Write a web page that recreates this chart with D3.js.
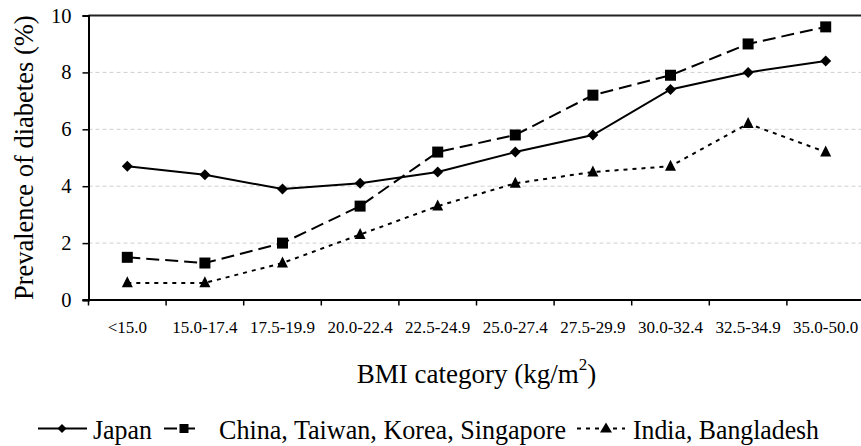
<!DOCTYPE html>
<html>
<head>
<meta charset="utf-8">
<script src="https://cdn.jsdelivr.net/npm/d3@7"></script>
<style>
  html, body { margin: 0; padding: 0; background: #fff; }
  svg text { font-family: "Liberation Serif", "Times New Roman", Times, "DejaVu Serif", serif; }
</style>
</head>
<body>
<svg id="chart" width="861" height="446"></svg>
<script>
// ---- data ----
const categories = ["<15.0", "15.0-17.4", "17.5-19.9", "20.0-22.4", "22.5-24.9",
                    "25.0-27.4", "27.5-29.9", "30.0-32.4", "32.5-34.9", "35.0-50.0"];
const japan = [4.7, 4.4, 3.9, 4.1, 4.5, 5.2, 5.8, 7.4, 8.0, 8.4];
const eastAsia = [1.5, 1.3, 2.0, 3.3, 5.2, 5.8, 7.2, 7.9, 9.0, 9.6];
const southAsia = [0.6, 0.6, 1.3, 2.3, 3.3, 4.1, 4.5, 4.7, 6.2, 5.2];
const seriesNames = ["Japan", "China, Taiwan, Korea, Singapore", "India, Bangladesh"];
const yTicks = [0, 2, 4, 6, 8, 10];
const gridTicks = [2, 4, 6, 8];

// ---- layout ----
const FONT = "'Liberation Serif', 'Times New Roman', Times, 'DejaVu Serif', serif";
const svg = d3.select("#chart");
const pLeft = 88.5, pRight = 864.5, pTop = 15.5, pBottom = 300;

const x = d3.scaleBand().domain(categories).range([pLeft, pRight]).padding(0);
const y = d3.scaleLinear().domain([0, 10]).range([pBottom, pTop]);

// marker shapes
function diamond(s) { const r = s / 2; return `M0,${-r}L${r},0L0,${r}L${-r},0Z`; }
function square(s) { const r = s / 2; return `M${-r},${-r}H${r}V${r}H${-r}Z`; }
function triangle(w, h) { return `M0,${-h * 0.6}L${w / 2},${h * 0.4}L${-w / 2},${h * 0.4}Z`; }

const series = [
  { name: seriesNames[0], values: japan, dash: null, marker: () => diamond(11), legendMarker: () => diamond(9) },
  { name: seriesNames[1], values: eastAsia, dash: "13,6", marker: () => square(11), legendMarker: () => square(9) },
  { name: seriesNames[2], values: southAsia, dash: "4,5", marker: () => triangle(11, 11), legendMarker: () => triangle(12, 10) }
];

// gridlines
svg.append("g").selectAll("line").data(gridTicks).join("line")
  .attr("x1", pLeft).attr("x2", pRight)
  .attr("y1", d => y(d)).attr("y2", d => y(d))
  .attr("stroke", "#cfcfcf").attr("stroke-width", 1).attr("stroke-dasharray", "4,3");

// top / right frame
svg.append("line")
  .attr("x1", pLeft).attr("x2", pRight).attr("y1", y(10)).attr("y2", y(10))
  .attr("stroke", "#222").attr("stroke-width", 2);
svg.append("line")
  .attr("x1", pRight).attr("x2", pRight).attr("y1", y(10)).attr("y2", y(0))
  .attr("stroke", "#222").attr("stroke-width", 2);

// y axis
const yAxis = svg.append("g").attr("transform", `translate(${pLeft},0)`)
  .call(d3.axisLeft(y).tickValues(yTicks).tickSize(6).tickPadding(11).tickFormat(d3.format("d")));
yAxis.attr("font-family", null).attr("font-size", null);
yAxis.select(".domain").attr("stroke", "#000").attr("stroke-width", 2);
yAxis.selectAll(".tick line").attr("stroke", "#000").attr("stroke-width", 1.5);
yAxis.selectAll(".tick text").attr("font-size", 20.5).attr("fill", "#000")
  .style("font-family", FONT);

// x axis
const bounds = categories.map(c => x(c));
const xAxisG = svg.append("g");
xAxisG.append("line").attr("x1", pLeft - 6).attr("x2", pRight)
  .attr("y1", pBottom).attr("y2", pBottom).attr("stroke", "#000").attr("stroke-width", 2);
xAxisG.selectAll("line.tk").data(bounds).join("line").attr("class", "tk")
  .attr("x1", d => d).attr("x2", d => d).attr("y1", pBottom).attr("y2", pBottom + 5.5)
  .attr("stroke", "#000").attr("stroke-width", 1.5);
xAxisG.selectAll("text").data(categories).join("text")
  .attr("x", d => x(d) + x.bandwidth() / 2).attr("y", 333)
  .attr("text-anchor", "middle").attr("font-size", 17).attr("fill", "#000")
  .style("font-family", FONT)
  .text(d => d);

// lines and markers
const line = d3.line().x((d, i) => x(categories[i]) + x.bandwidth() / 2).y(d => y(d));
series.forEach(s => {
  svg.append("path").datum(s.values)
    .attr("d", line).attr("fill", "none").attr("stroke", "#000").attr("stroke-width", 2)
    .attr("stroke-dasharray", s.dash);
  svg.append("g").selectAll("path").data(s.values).join("path")
    .attr("transform", (d, i) => `translate(${x(categories[i]) + x.bandwidth() / 2},${y(d)})`)
    .attr("d", s.marker).attr("fill", "#000");
});

// y title
svg.append("text")
  .attr("transform", `translate(33,${(pTop + pBottom) / 2}) rotate(-90)`)
  .attr("text-anchor", "middle").attr("font-size", 26.5).attr("fill", "#000")
  .style("font-family", FONT)
  .text("Prevalence of diabetes (%)");

// x title
const xt = svg.append("text")
  .attr("x", (pLeft + pRight) / 2).attr("y", 383)
  .attr("text-anchor", "middle").attr("font-size", 27).attr("fill", "#000")
  .style("font-family", FONT);
xt.append("tspan").text("BMI category (kg/m");
xt.append("tspan").attr("font-size", 17).attr("dy", -13).text("2");
xt.append("tspan").attr("dy", 13).text(")");

// legend
const legendItems = [
  { s: series[0], x1: 38, x2: 87, mx: 62, tx: 93, tw: 59 },
  { s: series[1], x1: 164, x2: 195, mx: 184, tx: 219, tw: 347 },
  { s: series[2], x1: 577, x2: 625, mx: 606, tx: 633, tw: 186 }
];
const lg = svg.append("g");
legendItems.forEach(it => {
  lg.append("line").attr("x1", it.x1).attr("x2", it.x2).attr("y1", 428.5).attr("y2", 428.5)
    .attr("stroke", "#000").attr("stroke-width", 2).attr("stroke-dasharray", it.s.dash);
  lg.append("path").attr("transform", `translate(${it.mx},428.5)`).attr("d", it.s.legendMarker()).attr("fill", "#000");
  lg.append("text").attr("x", it.tx).attr("y", 439).attr("font-size", 27.5).attr("fill", "#000")
    .style("font-family", FONT)
    .attr("textLength", it.tw).attr("lengthAdjust", "spacingAndGlyphs")
    .text(it.s.name);
});
</script>
</body>
</html>
